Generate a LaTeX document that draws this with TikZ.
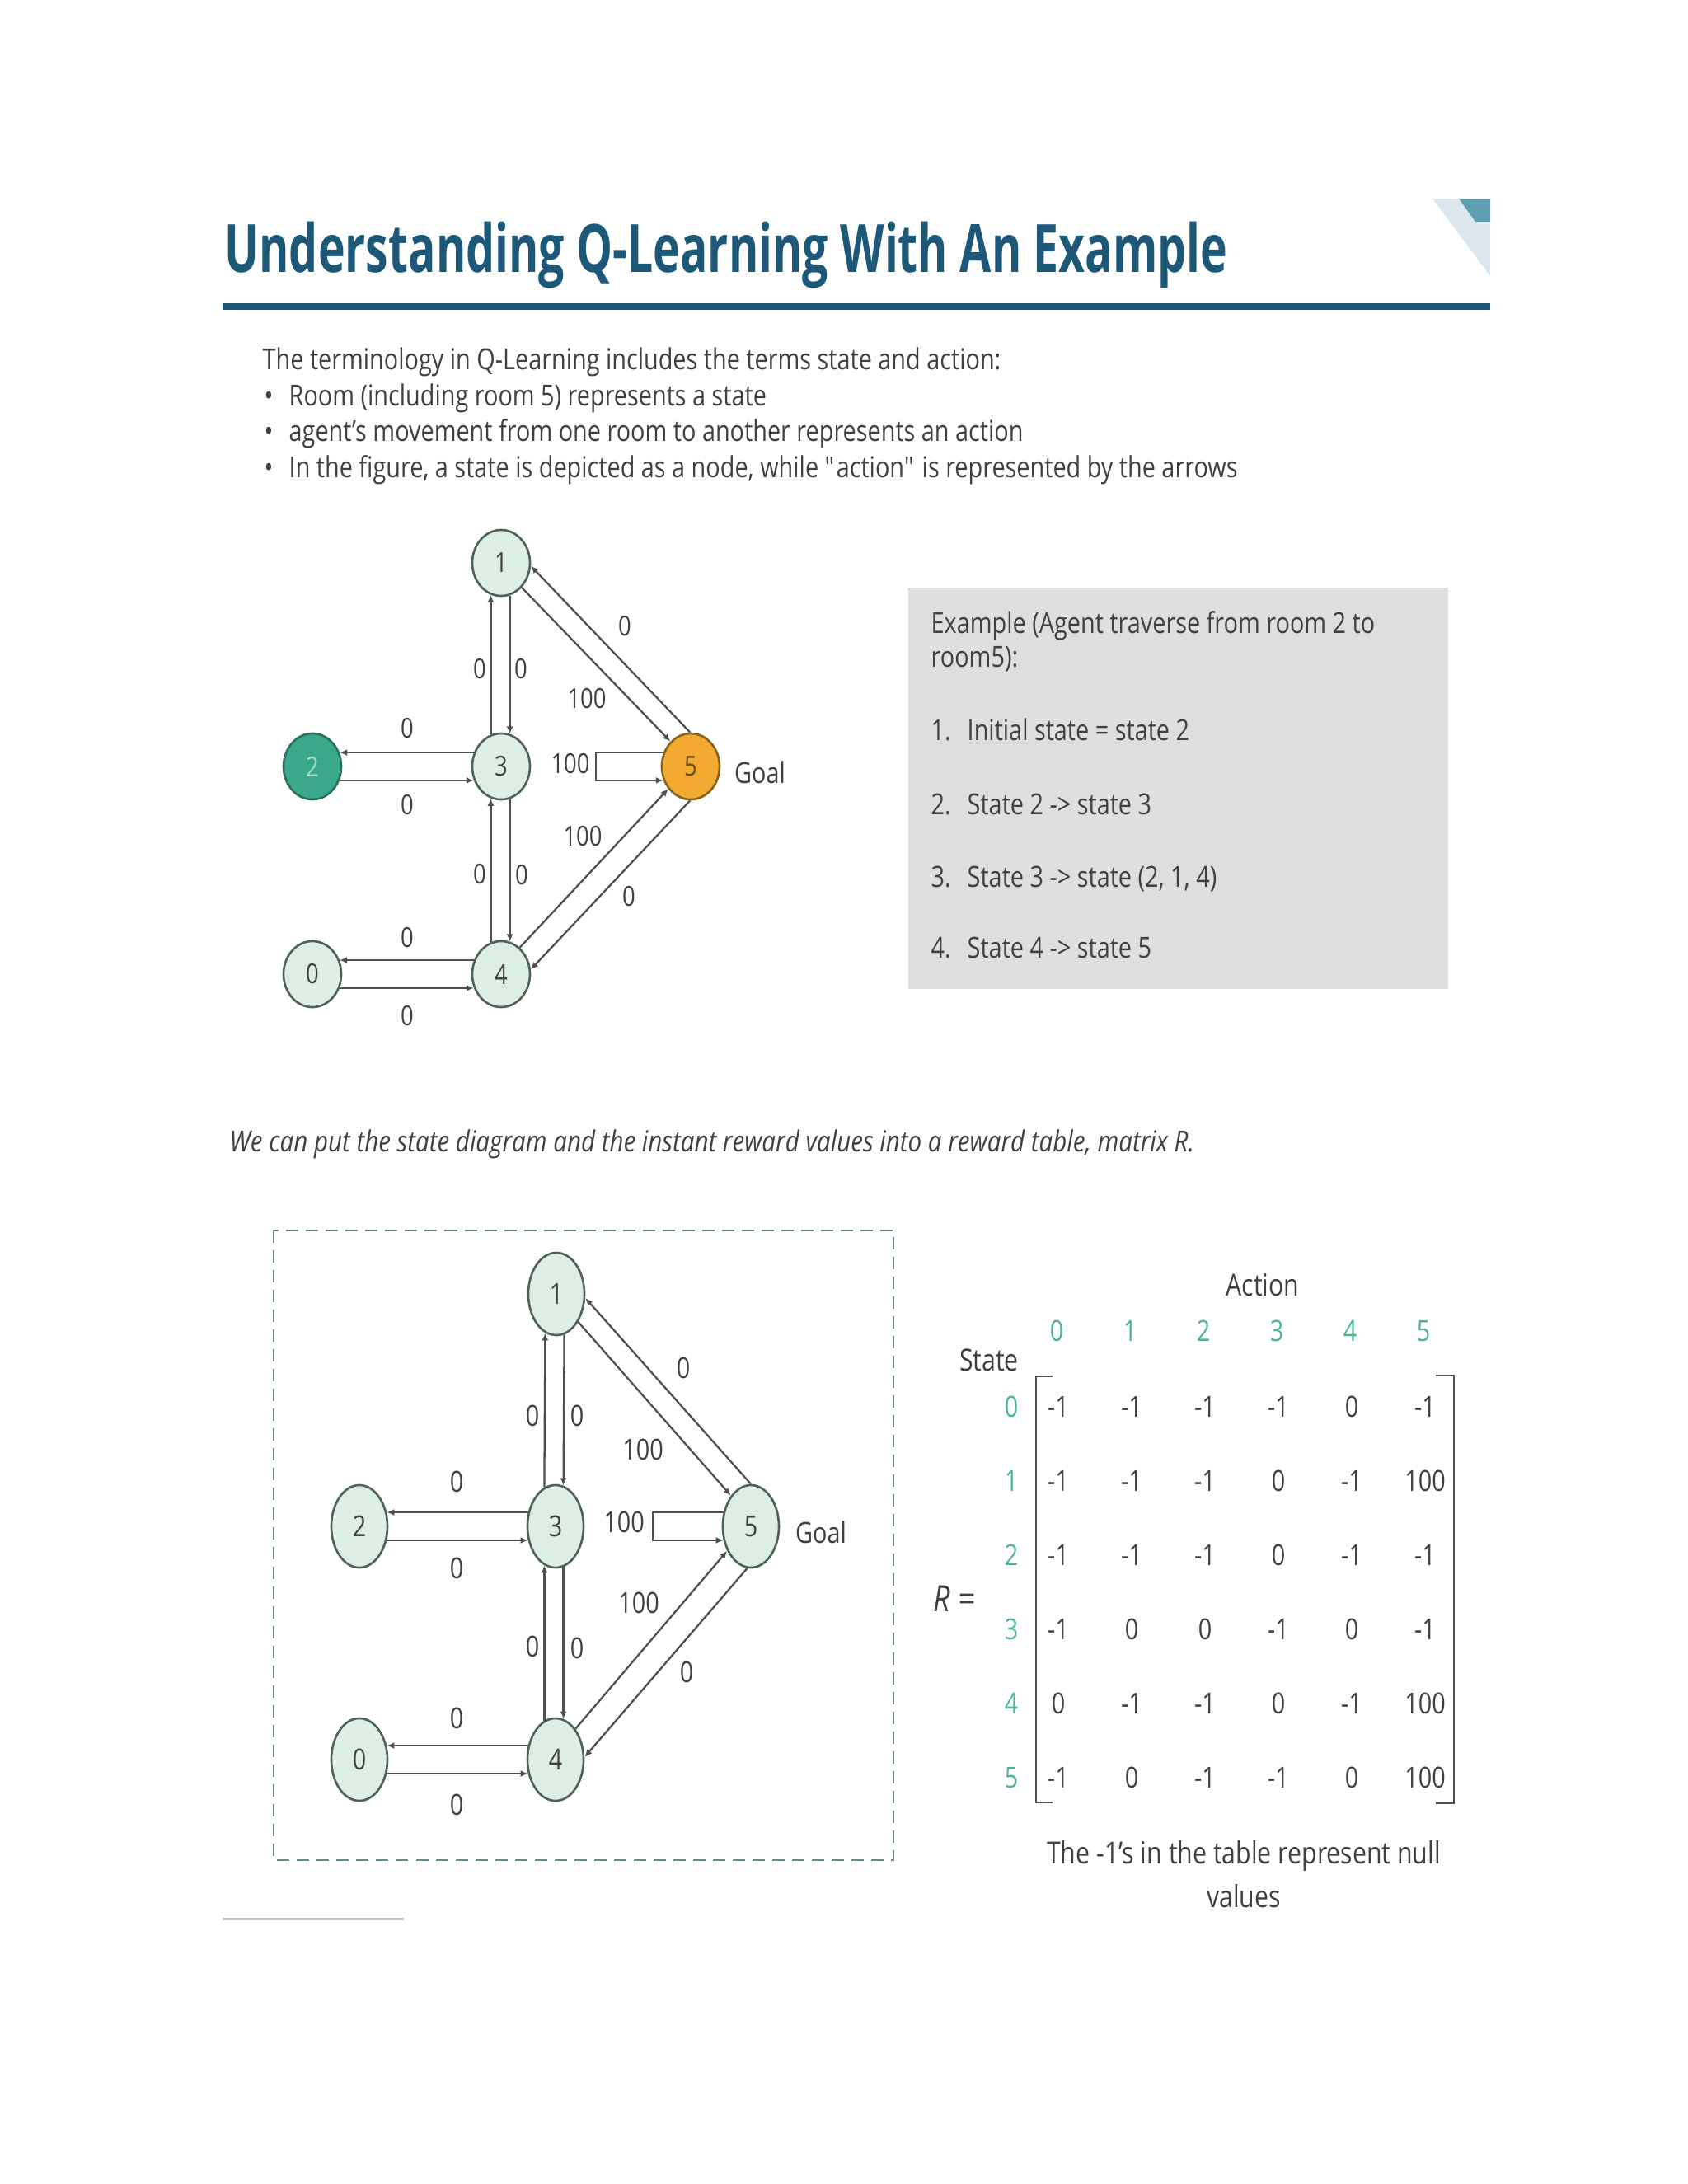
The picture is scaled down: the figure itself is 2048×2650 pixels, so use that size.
\documentclass[tikz,border=0pt]{standalone}
\usepackage{fontspec}
\setmainfont{Open Sans}[FakeStretch=0.82]
\newfontfamily\titlefont{Open Sans}[FakeStretch=0.685]
\newfontfamily\notefont{Open Sans}[FakeStretch=0.84]
\usetikzlibrary{arrows.meta,shapes.geometric}

\definecolor{titleblue}{HTML}{1D5878}
\definecolor{bodygray}{HTML}{404040}
\definecolor{edgegray}{HTML}{4F4F4F}
\definecolor{nodefill}{HTML}{DDEFE4}
\definecolor{nodeline}{HTML}{4E625A}
\definecolor{startfill}{HTML}{3AA88A}
\definecolor{startline}{HTML}{2B6F5D}
\definecolor{starttext}{HTML}{A9DCCB}
\definecolor{goalfill}{HTML}{F2AA30}
\definecolor{goalline}{HTML}{86621E}
\definecolor{goaltext}{HTML}{6A4915}
\definecolor{boxgray}{HTML}{DFDFDF}
\definecolor{idxteal}{HTML}{4DB596}
\definecolor{dashteal}{HTML}{5E8C8A}
\definecolor{cornerlight}{HTML}{DCE7ED}
\definecolor{cornerteal}{HTML}{5E9FB2}
\definecolor{rulelight}{HTML}{B4C6CE}

\tikzset{
  txt/.style={anchor=base west, inner sep=0pt, text=bodygray, font=\fontsize{10}{12}\selectfont},
  room/.style={ellipse, draw=nodeline, fill=nodefill, line width=0.75pt, minimum width=0.70cm,
    minimum height=0.80cm, inner sep=0pt, text=bodygray, font=\fontsize{9.5}{11}\selectfont},
  bigroom/.style={room, minimum width=0.68cm, minimum height=1.0cm, font=\fontsize{10}{12}\selectfont},
  start/.style={fill=startfill, draw=startline, text=starttext},
  goal/.style={fill=goalfill, draw=goalline, text=goaltext},
  move/.style={draw=edgegray, line width=0.65pt, -{Latex[length=0.09cm,width=0.08cm]}},
  rew/.style={inner sep=0pt, text=bodygray, font=\fontsize{9.5}{11}\selectfont},
  cell/.style={inner sep=0pt, text=bodygray, font=\fontsize{10}{12}\selectfont},
  idx/.style={inner sep=0pt, text=idxteal, font=\fontsize{10}{12}\selectfont},
}

\begin{document}
\begin{tikzpicture}[x=0.01cm, y=-0.01cm]
  \fill[white] (0,0) rectangle (2048,2650);
  \useasboundingbox (0,0) rectangle (2048,2650);

  % heading
  \fill[cornerlight] (1738,241) -- (1808,241) -- (1808,335) -- cycle;
  \fill[cornerteal] (1770,241) -- (1808,241) -- (1808,269) -- (1790,269) -- cycle;
  \node[anchor=base west, inner sep=0pt, text=titleblue, font=\titlefont\bfseries\fontsize{23}{28}\selectfont]
    (title) at (272,330) {Understanding Q-Learning With An Example};
  \draw[titleblue, line width=0.08cm] (270,372) -- (1808,372);

  \node[txt] (intro) at (318,448) {The terminology in Q-Learning includes the terms state and action:};
  \node[txt] (dot1) at (320,492) {\textbullet};
  \node[txt] (item1) at (350,492) {Room (including room 5) represents a state};
  \node[txt] (dot2) at (320,535) {\textbullet};
  \node[txt] (item2) at (350,535) {agent's movement from one room to another represents an action};
  \node[txt] (dot3) at (320,579) {\textbullet};
  \node[txt] (item3) at (350,579) {In the figure, a state is depicted as a node, while \textquotedbl action\textquotedbl{} is represented by the arrows};

  % first state diagram
  \node[room] (a1) at (608,683) {1};
  \node[room, start] (a2) at (379,930) {2};
  \node[room] (a3) at (608,930) {3};
  \node[room, goal] (a5) at (838,930) {5};
  \node[room] (a0) at (379,1182) {0};
  \node[room] (a4) at (608,1182) {4};
  \node[rew, font=\fontsize{10}{12}\selectfont] (goal1) at (922,937) {Goal};

  \foreach \s/\t in {a3.153/a2.27, a2.-27/a3.-153, a4.153/a0.27, a0.-27/a4.-153,
                     a3.108/a1.252, a1.285/a3.75, a4.108/a3.252, a3.285/a4.75,
                     a5.91/a1.-6, a1.-50/a5.129, a4.55/a5.225, a5.269/a4.9}
    \draw[move] (\s) -- (\t);
  \coordinate (loopa) at (723,913);
  \draw[move] (a5.153) -- (a5.153 -| loopa) |- (a5.207);

  \foreach \x/\y/\w [count=\i] in {494/884/0, 494/977/0, 494/1138/0, 494/1233/0,
                                   582/812/0, 632/812/0, 582/1061/0, 633/1062/0,
                                   758/760/0, 712/848/100, 692/927/100, 707/1015/100, 763/1088/0}
    \node[rew] (ra\i) at (\x,\y) {\w};

  % worked example
  \fill[boxgray] (1102,713) rectangle (1757,1200);
  \node[txt] (ex1) at (1129,768) {Example (Agent traverse from room 2 to};
  \node[txt] (ex2) at (1129,809) {room5):};
  \node[txt] (n1) at (1129,898) {1.};
  \node[txt] (step1) at (1173,898) {Initial state = state 2};
  \node[txt] (n2) at (1129,988) {2.};
  \node[txt] (step2) at (1173,988) {State 2 -> state 3};
  \node[txt] (n3) at (1129,1076) {3.};
  \node[txt] (step3) at (1173,1076) {State 3 -> state (2, 1, 4)};
  \node[txt] (n4) at (1129,1162) {4.};
  \node[txt] (step4) at (1173,1162) {State 4 -> state 5};

  \node[txt, font=\notefont\itshape\fontsize{10}{12}\selectfont] (note) at (278,1397)
    {We can put the state diagram and the instant reward values into a reward table, matrix R.};

  % second state diagram
  \draw[dashteal, line width=0.025cm, dash pattern=on 0.15cm off 0.09cm] (332,1493) rectangle (1084,2257);
  \node[bigroom] (b1) at (675,1570) {1};
  \node[bigroom] (b2) at (436,1852) {2};
  \node[bigroom] (b3) at (674,1852) {3};
  \node[bigroom] (b5) at (911,1852) {5};
  \node[bigroom] (b0) at (436,2135) {0};
  \node[bigroom] (b4) at (674,2135) {4};
  \node[rew, font=\fontsize{10}{12}\selectfont] (goal2) at (996,1859) {Goal};

  \foreach \s/\t in {b3.153/b2.27, b2.-27/b3.-153, b4.153/b0.27, b0.-27/b4.-153,
                     b3.106/b1.254, b1.281/b3.79, b4.106/b3.254, b3.281/b4.79,
                     b5.90/b1.-8, b1.-52/b5.123, b4.57/b5.226, b5.265/b4.5}
    \draw[move] (\s) -- (\t);
  \coordinate (loopb) at (792,1835);
  \draw[move] (b5.153) -- (b5.153 -| loopb) |- (b5.207);

  \foreach \x/\y/\w [count=\i] in {554/1798/0, 554/1903/0, 554/2085/0, 554/2190/0,
                                   646/1718/0, 700/1718/0, 646/1998/0, 700/2000/0,
                                   829/1660/0, 780/1759/100, 757/1847/100, 775/1945/100, 833/2029/0}
    \node[rew, font=\fontsize{10}{12}\selectfont] (rb\i) at (\x,\y) {\w};

  % reward matrix
  \node[cell, font=\fontsize{10.5}{12}\selectfont] (action) at (1532,1559) {Action};
  \node[cell, font=\fontsize{10.5}{12}\selectfont] (state) at (1200,1650) {State};
  \node[cell, font=\itshape\fontsize{12.5}{14}\selectfont] (req) at (1158,1940) {R =};
  \foreach \c in {0,...,5}
    \node[idx] (act\c) at (1282+89*\c,1615) {\c};
  \foreach \row [count=\r from 0] in {{-1,-1,-1,-1,0,-1}, {-1,-1,-1,0,-1,100}, {-1,-1,-1,0,-1,-1},
                                      {-1,0,0,-1,0,-1}, {0,-1,-1,0,-1,100}, {-1,0,-1,-1,0,100}} {
    \node[idx] (st\r) at (1227,1707+90*\r) {\r};
    \foreach \v [count=\c from 0] in \row
      \node[cell] (m\r\c) at (1284+89*\c,1707+90*\r) {\v};
  }
  \draw[edgegray, line width=0.6pt] (1277,1670) -- (1257,1670) -- (1257,2187) -- (1277,2187);
  \draw[edgegray, line width=0.6pt] (1742,1669) -- (1764,1669) -- (1764,2188) -- (1742,2188);
  \node[cell, font=\fontsize{10.5}{12}\selectfont] (cap1) at (1509,2252) {The -1's in the table represent null};
  \node[cell, font=\fontsize{10.5}{12}\selectfont] (cap2) at (1509,2301) {values};

  \draw[rulelight, line width=0.03cm] (270,2328) -- (490,2328);
\end{tikzpicture}
\end{document}
